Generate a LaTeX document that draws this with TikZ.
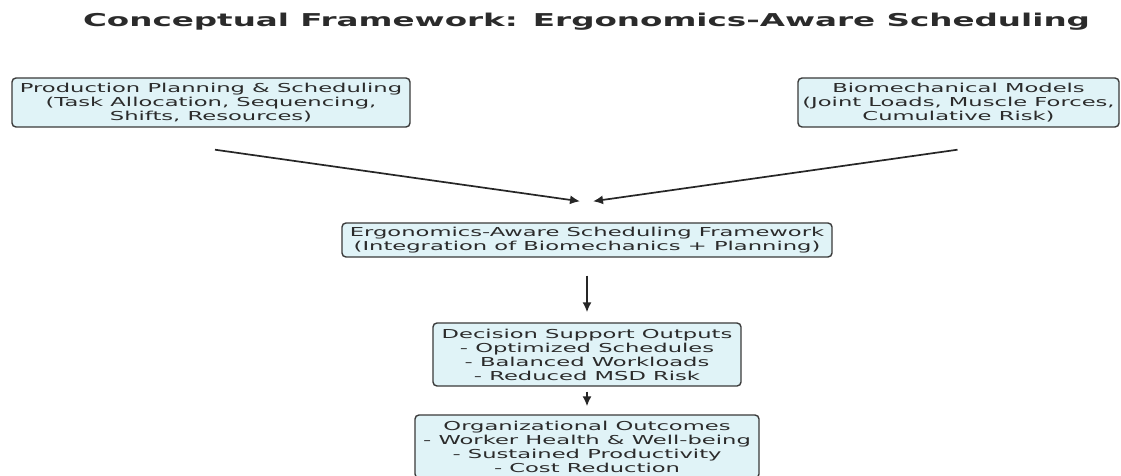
\documentclass[tikz,border=0pt]{standalone}
\usepackage{fontspec}
\newfontfamily\bodyfont[FakeStretch=1.84]{DejaVu Sans}
\usetikzlibrary{arrows.meta}
\definecolor{boxfill}{HTML}{E0F3F7}
\definecolor{boxedge}{HTML}{3A3A3A}
\definecolor{txt}{HTML}{2B2B2B}
\tikzset{
  box/.style={draw=boxedge, fill=boxfill, rounded corners=4pt, line width=1.4pt,
    inner sep=0pt, align=center, font=\bodyfont\fontsize{12.3}{14}\selectfont, text=txt},
  arr/.style={-{Latex[length=10pt,width=9pt]}, line width=1.7pt, draw=black!85},
  ttl/.style={font=\bodyfont\bfseries\fontsize{17.7}{20}\selectfont, text=txt, anchor=base}
}
\begin{document}
\begin{tikzpicture}[x=1pt,y=-1pt]
\useasboundingbox (0,0) rectangle (1121,476);
\clip (0,0) rectangle (1121,476);
\fill[white] (0,0) rectangle (1121,476);
\node[ttl] (title) at (586.5,27) {Conceptual Framework: Ergonomics-Aware Scheduling};
\node[box, minimum width=398pt, minimum height=49pt] (plan) at (211,102.5)
  {Production Planning \& Scheduling\\(Task Allocation, Sequencing,\\Shifts, Resources)};
\node[box, minimum width=321pt, minimum height=49pt] (bio) at (958.5,102.5)
  {Biomechanical Models\\(Joint Loads, Muscle Forces,\\Cumulative Risk)};
\node[box, minimum width=490pt, minimum height=34pt] (frame) at (587,240)
  {Ergonomics-Aware Scheduling Framework\\(Integration of Biomechanics + Planning)};
\node[box, minimum width=308pt, minimum height=63pt] (dec) at (587,354.5)
  {Decision Support Outputs\\- Optimized Schedules\\- Balanced Workloads\\- Reduced MSD Risk};
\node[box, minimum width=344pt, minimum height=63pt] (out) at (587,446.5)
  {Organizational Outcomes\\- Worker Health \& Well-being\\- Sustained Productivity\\- Cost Reduction};
\draw[arr] ([shift={(4,22)}]plan.south) -- ([shift={(-7,-21)}]frame.north);
\draw[arr] ([shift={(-1,22)}]bio.south) -- ([shift={(6,-21)}]frame.north);
\draw[arr] ([yshift=-18pt]frame.south) -- ([yshift=10pt]dec.north);
\draw[arr] ([yshift=-5pt]dec.south) -- ([yshift=8pt]out.north);
\end{tikzpicture}
\end{document}
